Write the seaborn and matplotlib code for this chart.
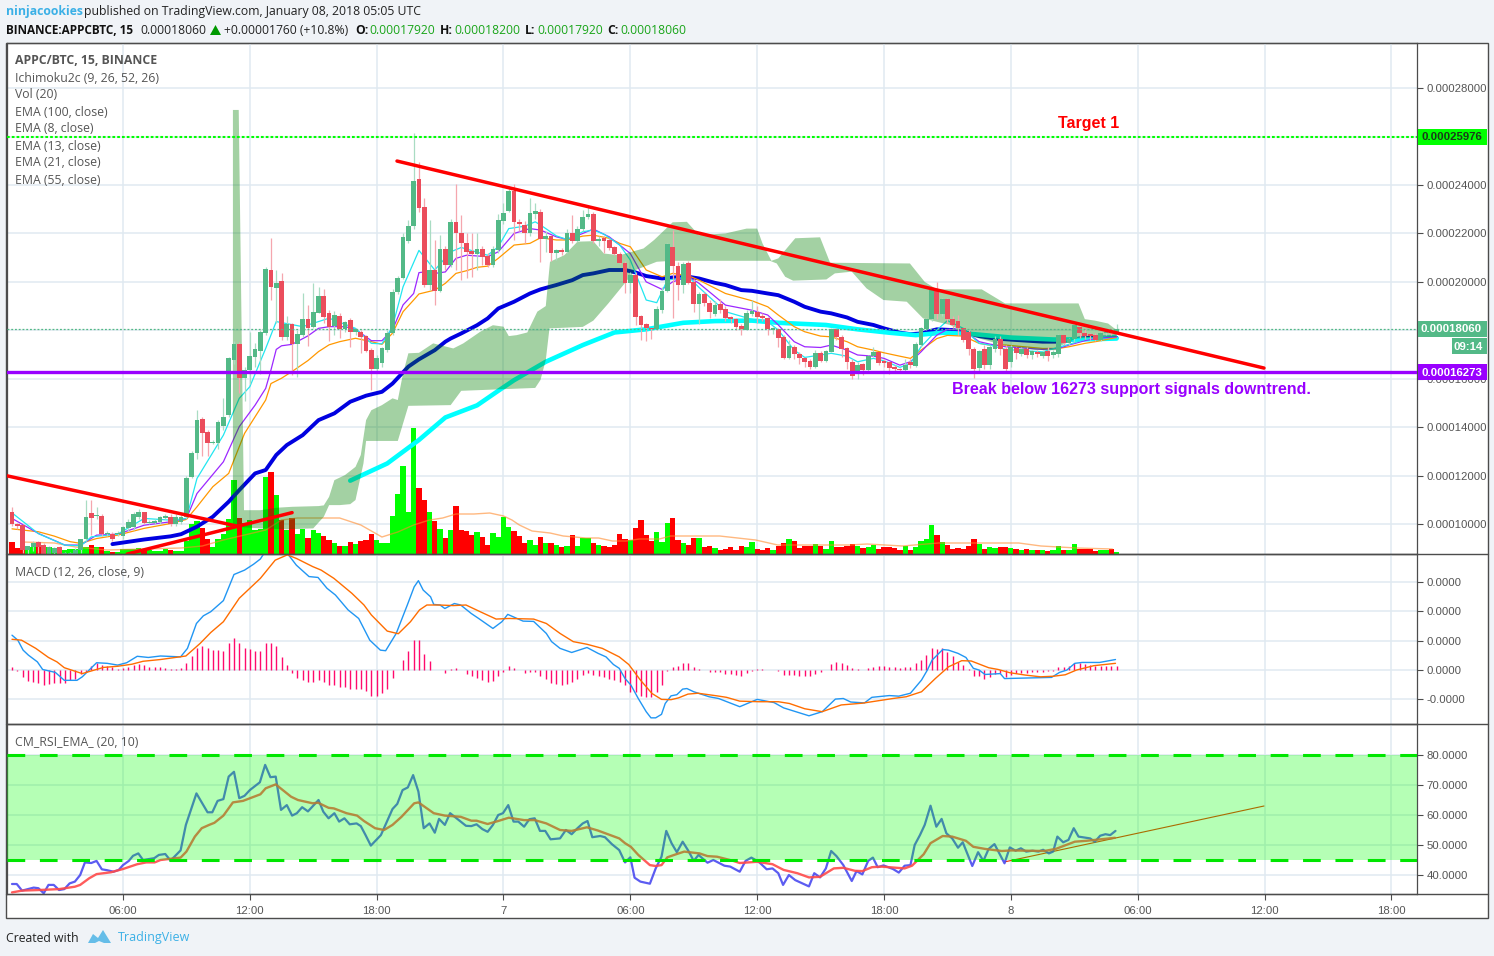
import matplotlib
matplotlib.use("Agg")
import matplotlib.pyplot as plt
import seaborn as sns
import numpy as np
from matplotlib.lines import Line2D
from matplotlib.patches import Polygon, Rectangle

# prices are in 1e-6 BTC, one list row = 10 bars of 15 minutes
opens = [
    105.1, 100.2, 99.5, 89.2, 90.3, 92.4, 91.3, 87.6, 88.1, 90.3,
    87.6, 87.5, 87.8, 89.2, 93.6, 104.4, 103.2, 103.3, 95.7, 95.8,
    95.8, 95.0, 98.2, 98.9, 103.0, 104.8, 100.5, 100.5, 100.9, 102.6,
    103.0, 100.2, 100.9, 102.7, 119.5, 129.2, 143.2, 138.1, 133.3, 133.3,
    140.4, 145.0, 167.8, 174.4, 160.2, 163.6, 169.1, 171.6, 179.0, 205.0,
    197.6, 200.4, 177.4, 182.5, 174.2, 178.1, 184.7, 181.5, 187.3, 194.2,
    187.0, 181.9, 186.0, 180.4, 184.3, 179.1, 179.2, 177.5, 171.9, 164.2,
    166.3, 171.8, 178.7, 195.9, 201.4, 216.8, 223.2, 242.3, 231.0, 198.7,
    205.1, 196.3, 213.4, 206.9, 224.6, 220.0, 215.9, 212.9, 211.5, 213.4,
    210.6, 206.9, 213.1, 225.2, 229.4, 237.5, 224.8, 223.5, 220.0, 227.9,
    229.0, 217.9, 218.9, 212.0, 213.1, 212.4, 220.0, 216.8, 222.0, 226.6,
    228.0, 217.0, 218.2, 217.3, 214.2, 211.5, 207.9, 199.6, 202.8, 185.9,
    182.6, 180.8, 180.4, 188.3, 196.3, 214.2, 206.7, 198.7, 207.6, 200.0,
    190.8, 195.0, 191.1, 186.7, 190.8, 188.6, 185.3, 184.5, 181.7, 180.1,
    186.6, 187.7, 185.9, 184.9, 180.1, 180.4, 177.1, 168.7, 173.2, 170.2,
    168.4, 167.3, 164.7, 170.5, 167.4, 171.1, 180.4, 177.3, 172.8, 167.0,
    161.9, 165.9, 163.6, 169.3, 170.9, 167.3, 166.7, 164.9, 163.8, 163.6,
    167.0, 165.2, 173.9, 180.5, 184.5, 196.2, 186.7, 192.8, 184.5, 183.8,
    180.8, 179.4, 172.1, 164.3, 172.1, 165.6, 172.2, 176.4, 172.1, 167.0,
    172.5, 170.2, 172.1, 169.8, 171.1, 169.5, 171.6, 169.8, 170.2, 177.9,
    174.9, 176.2, 181.5, 179.0, 178.4, 178.2, 176.0, 178.7, 179.8, 179.2,
]
closes = [
    100.2, 99.1, 89.2, 91.0, 92.0, 90.6, 87.6, 90.6, 89.9, 87.6,
    87.9, 87.9, 89.2, 93.6, 102.7, 102.3, 103.7, 95.8, 96.1, 93.6,
    96.0, 98.6, 100.9, 104.0, 104.8, 100.5, 100.9, 101.3, 102.7, 103.3,
    100.2, 103.0, 103.0, 119.2, 129.2, 142.9, 137.4, 133.3, 133.5, 142.2,
    144.3, 168.4, 174.4, 160.1, 163.6, 169.4, 172.2, 179.3, 205.2, 198.0,
    199.4, 177.4, 182.5, 174.2, 178.4, 184.7, 181.1, 187.5, 194.2, 185.3,
    181.3, 186.4, 180.4, 183.6, 179.1, 180.4, 177.4, 171.6, 164.2, 168.6,
    172.5, 178.7, 195.9, 201.4, 218.4, 223.2, 241.6, 230.3, 198.7, 205.1,
    196.3, 213.4, 206.9, 224.6, 220.0, 215.9, 212.4, 211.5, 213.4, 210.4,
    206.9, 213.4, 225.5, 228.3, 237.5, 224.8, 223.9, 220.0, 228.3, 229.2,
    217.9, 218.9, 212.0, 213.1, 212.4, 220.0, 216.8, 222.0, 226.6, 228.0,
    217.0, 217.9, 217.0, 213.8, 211.5, 207.9, 199.6, 202.8, 185.6, 182.1,
    180.8, 180.4, 188.6, 196.3, 215.6, 206.7, 198.7, 207.3, 199.6, 190.8,
    195.0, 191.1, 187.4, 190.4, 188.3, 184.9, 184.5, 181.5, 180.4, 187.0,
    187.9, 185.6, 184.9, 180.4, 180.8, 176.9, 168.7, 173.5, 170.2, 168.4,
    167.0, 164.7, 170.7, 167.4, 171.6, 180.4, 177.1, 172.2, 166.7, 161.1,
    165.6, 163.6, 169.5, 171.1, 166.3, 166.6, 164.5, 163.9, 163.6, 165.6,
    165.6, 174.3, 180.8, 184.6, 196.6, 186.7, 192.8, 184.5, 182.2, 180.8,
    176.0, 172.1, 163.9, 171.6, 165.6, 172.9, 176.4, 172.1, 163.9, 172.9,
    170.5, 172.1, 169.8, 171.4, 170.2, 171.1, 169.3, 171.1, 177.9, 174.9,
    176.6, 182.2, 178.7, 177.7, 177.7, 176.0, 179.0, 179.4, 179.0, 180.6,
]
highs = [
    107, 100.5, 100, 91, 93, 93, 92, 91, 90.5, 91,
    88.5, 88.5, 90, 94, 110, 110, 107, 104, 97, 96.5,
    97, 99, 102, 105, 106, 105, 101.5, 102, 103.5, 104,
    104, 104, 104, 120, 130, 147, 144, 139, 134.5, 143,
    152, 169, 175.5, 175, 165, 179.5, 174.6, 180, 206, 218,
    205, 203.6, 185.7, 183, 180, 195.3, 190.5, 199.4, 198, 197.1,
    188.4, 188, 187, 184, 185, 181, 180, 178, 172.5, 170,
    173, 180, 197, 202.5, 220, 225.5, 261.3, 249.6, 234.5, 225.5,
    217.3, 219.3, 215, 226, 240.3, 227.6, 220, 220, 220, 215,
    212, 215, 228, 232.4, 239.3, 240.3, 226, 225, 234.5, 232.4,
    230, 221, 219.5, 213.5, 214, 222, 227.6, 223, 229.7, 231,
    229, 219, 219, 218, 215, 212.5, 208.5, 204, 204, 186.5,
    183, 181, 190, 198, 216, 221.4, 208, 208, 208.5, 201,
    196, 196, 192.5, 192, 193, 190, 186, 185, 182.5, 188.5,
    192.5, 190, 187, 185.5, 181.5, 181, 178, 176, 174, 171,
    168.5, 168, 172, 171.5, 172, 181, 181, 178, 173, 168,
    167, 166.5, 170, 173, 171, 168, 167, 165.5, 164.5, 168,
    168, 175, 181.5, 185, 197, 200, 193.5, 193.5, 186, 186.3,
    181, 180, 173, 172, 174, 174, 177.5, 177.5, 174, 174,
    173, 173, 173, 172, 172, 172, 173, 172, 178.5, 178,
    177, 184, 183, 181, 179, 179, 179.5, 180.5, 181, 182.8,
]
lows = [
    99, 98, 88, 87, 89, 88, 87, 87, 87, 87,
    87, 87, 87, 88, 93, 95.5, 102, 95, 95, 93,
    95, 94, 97, 97.5, 102, 100, 100, 100, 100, 102,
    99, 99, 100, 102, 119, 127, 128, 128, 133, 131,
    139, 144, 166, 154, 151, 158, 165, 162, 178, 192.6,
    182.9, 176, 176, 161.6, 160.9, 177.4, 173.5, 181, 187, 182.9,
    175.6, 178, 176.7, 179.5, 173.3, 178, 170.5, 171, 155.4, 163,
    165, 171, 178, 195, 201, 216, 222, 229, 198, 196.6,
    190.4, 196, 205, 206, 204.9, 200.7, 201.4, 202, 205, 207,
    206, 206, 212, 224, 229, 217.3, 221, 215.9, 219, 226,
    208.3, 212.4, 208.6, 209, 211, 212, 216, 216.5, 221, 226,
    216, 215, 212, 213, 211, 207.5, 195.5, 195.5, 182, 175.9,
    175.7, 176.2, 180, 187, 196, 184.9, 192.5, 195.5, 199, 187.6,
    182.8, 190, 185, 186, 187, 184, 183, 180, 178, 180,
    186, 183, 184, 178, 178.5, 173.2, 168, 168, 168, 166,
    165, 164, 164.5, 167, 167, 171, 176, 169, 164, 160,
    160, 161.5, 163, 169, 165.5, 165, 162, 163, 163, 163,
    164.5, 165, 173, 180, 184, 184.5, 186, 183, 181, 178,
    175, 170, 160.5, 163, 164, 164, 171, 170, 163, 165,
    168, 169.5, 168.5, 168, 169, 168.5, 167.5, 168.5, 169, 174,
    174, 175, 177, 176.5, 176, 175.5, 175.5, 178, 178, 179,
]
volume = [
    12, 6, 4, 6, 7, 8, 9, 7, 4, 7,
    4, 5, 5, 6, 7, 9, 7, 7, 3, 2,
    2, 5, 5, 5, 6, 5, 4, 3, 3, 5,
    4, 3, 3, 13, 30, 33, 26, 15, 7, 15,
    20, 35, 74, 36, 31, 34, 24, 25, 77, 82,
    59, 34, 24, 36, 20, 25, 16, 24, 21, 18,
    14, 11, 8, 8, 12, 10, 13, 14, 20, 14,
    11, 11, 38, 60, 88, 42, 126, 66, 54, 42,
    33, 25, 16, 24, 48, 24, 23, 19, 22, 17,
    9, 21, 17, 37, 27, 23, 18, 11, 14, 9,
    17, 11, 11, 9, 7, 8, 19, 8, 16, 16,
    11, 9, 8, 7, 9, 20, 15, 14, 26, 34,
    19, 13, 22, 12, 31, 36, 14, 11, 9, 16,
    16, 7, 8, 6, 4, 5, 7, 4, 8, 7,
    12, 5, 4, 6, 4, 8, 11, 15, 13, 6,
    8, 8, 10, 8, 5, 13, 7, 7, 8, 10,
    8, 6, 7, 9, 5, 7, 7, 6, 4, 8,
    4, 7, 13, 15, 29, 19, 12, 9, 5, 6,
    5, 8, 15, 10, 5, 7, 6, 7, 7, 6,
    5, 4, 5, 4, 4, 4, 3, 4, 8, 4,
    4, 10, 5, 5, 5, 3, 4, 4, 5, 2,
]
vol_ma_bars = [2, 8, 12, 18, 25, 32, 36, 40, 44, 48, 51, 54, 58, 62, 66, 70, 73, 76, 79,
               81.5, 84, 87.4, 90.4, 93, 94.6, 96, 98.4, 101.8, 104.3, 108.6, 111, 113.6, 116.2,
               118.7, 122.5, 124.6, 129.7, 133.9, 137.3, 140.7, 144.9, 151.6, 158.4, 161.8,
               168.5, 175.3, 182, 190.5, 194.7, 201.5, 208.2]
vol_ma = [12, 11, 7, 4, 5, 6, 8, 14, 19, 24, 34, 36, 36, 36, 29, 17, 22, 29, 34,
          36, 40, 40, 41, 38, 34, 29, 23, 21, 18, 16, 16, 13, 13,
          15, 15, 18, 18, 18, 16, 14, 9, 9, 9, 10,
          8, 11, 11, 11, 8, 6, 5]

ema8_bars = [0, 5, 10, 13, 15, 20, 25, 30, 33, 35, 40, 43, 45, 48, 50, 55, 60, 65, 68, 70,
             72, 74, 76, 77, 79, 80, 83, 85, 90, 92, 94, 97, 99, 100, 103, 105, 108, 110, 112, 115,
             117, 120, 122, 124, 126, 128, 130, 135, 140, 143, 145, 148, 150, 155, 158, 160, 163, 165, 168, 170,
             172, 175, 177, 180, 183, 185, 188, 190, 195, 198, 200, 203, 205, 209]
ema8 = [104.6, 96, 91.3, 91, 94.7, 95.8, 102.3, 101.6, 102.3, 118.8, 136.7, 151.9, 156.7, 172.5, 183.6, 181.5, 185, 180.8, 174.6, 174.4,
        181.5, 198, 208, 213, 207.6, 204.9, 212.4, 214.2, 211, 214.5, 222, 223, 224.8, 223.5, 219, 217.5, 220.7, 221.4, 219.7, 215.2,
        209, 192.5, 191.4, 200.7, 201.4, 202.1, 197.7, 187.7, 184.5, 183.5, 180.1, 171.8, 168.8, 170.5, 169.3, 167, 168.4, 167.4, 164.7, 166.3,
        173.2, 180.1, 184, 180.8, 174.6, 173.9, 172.1, 171.8, 171.1, 173, 174.2, 176.2, 177.1, 178]
ema13_bars = [0, 5, 10, 13, 16, 20, 25, 30, 33, 35, 40, 43, 46, 48, 49, 50, 51, 53, 56, 58,
              60, 63, 65, 68, 70, 72, 74, 76, 77, 78, 80, 82, 84, 86, 90, 92, 95, 98, 100, 103,
              105, 108, 110, 113, 115, 117, 120, 123, 125, 128, 130, 135, 140, 143, 145, 148, 150, 153, 155, 158,
              160, 163, 165, 168, 170, 172, 175, 177, 180, 183, 185, 188, 190, 195, 198, 200, 203, 205, 209]
ema13 = [102.3, 96.1, 91.3, 91.3, 95.4, 95.8, 99.5, 100.9, 102.3, 112.6, 125.7, 140.2, 149.1, 156, 163.6, 172.1, 173.6, 174.2, 177.7, 180.8,
         181.5, 181.5, 180.4, 175.7, 175.7, 180.2, 190.5, 195.2, 203.8, 204.1, 203.5, 204.1, 209.7, 211, 210.4, 212.4, 220, 222, 221.4, 218.6,
         217.5, 220, 221.8, 218.6, 215.2, 211.7, 200, 196.9, 200, 202.1, 199.4, 190.4, 188.3, 186.3, 182.2, 175.3, 173.2, 172.9, 173.9, 171.8,
         169.8, 169.3, 168.4, 165.6, 167, 171.1, 178, 180.4, 180.1, 175.3, 174.3, 173.2, 172.9, 172.1, 172.5, 173.9, 175.7, 176.6, 177.3]
ema21_bars = [0, 2, 5, 8, 11, 13, 16, 20, 25, 30, 33, 35, 38, 41, 44, 46, 48, 49, 51, 53,
              56, 58, 60, 62, 65, 68, 70, 72, 74, 76, 77, 80, 82, 84, 86, 88, 90, 92, 95, 98,
              100, 103, 105, 108, 110, 113, 115, 117, 120, 123, 125, 128, 130, 135, 140, 143, 145, 148, 150, 153,
              155, 158, 160, 163, 165, 168, 170, 172, 175, 177, 180, 183, 185, 188, 190, 195, 198, 200, 203, 205, 209]
ema21 = [98, 97.5, 96.8, 95, 92.7, 92, 94, 95.4, 98.2, 100.2, 101.9, 107.1, 115.4, 120.9, 137.4, 144.3, 151.2, 158, 160.2, 163,
         167.5, 171.2, 174, 175.3, 176.7, 175.3, 174.2, 178.8, 187.7, 192.5, 195, 196.6, 199.4, 203.5, 204.6, 206, 206.5, 209.7, 215.2, 215.9,
         218.2, 217.3, 217.3, 218.9, 219.3, 218, 215.9, 214.5, 204.9, 202.1, 203.5, 202.5, 200.7, 195.2, 192.2, 189.7, 186.3, 181.5, 179.4, 177.6,
         177.3, 175.3, 173.2, 171.8, 170.7, 169.3, 168.4, 171.8, 176.6, 177.9, 177.6, 174.6, 173.9, 173.9, 173.5, 172.5, 172.5, 173.2, 174.6, 175.3, 177]
ema100_bars = [19, 25, 30, 32, 35, 38, 41, 43, 46, 48, 50, 52, 55, 58, 61, 64, 67, 70, 72, 75,
               77, 80, 82, 83, 85, 88, 90, 92, 95, 98, 100, 103, 106, 108, 110, 113, 116, 118, 120, 123,
               125, 128, 130, 133, 135, 138, 140, 143, 145, 148, 150, 153, 155, 158, 160, 163, 165, 168, 170, 172,
               175, 178, 180, 183, 186, 190, 195, 198, 202, 205, 209]
ema100 = [91.7, 93.6, 94.9, 95.8, 98.9, 103, 109.2, 114, 120.9, 122.3, 128.5, 132.6, 136.7, 142.9, 145.7, 150.5, 153, 154.6, 158, 165,
          168, 171.8, 175.3, 176.6, 178.7, 182.1, 184.9, 189, 191.8, 195.2, 196.9, 198.7, 200.7, 202.8, 203.5, 204.9, 204.9, 203.9, 202.4, 201.4,
          201.8, 202.1, 201.4, 199.6, 198.7, 196.6, 196.3, 195.2, 194.5, 191.8, 189.7, 187.7, 187, 185.3, 183.5, 182.2, 180.8, 179, 178.4, 178.7,
          180.4, 180.1, 179.4, 177.6, 176.6, 176, 175.3, 175.3, 176.6, 177, 176.9]
ema55_bars = [64, 71, 77, 82, 88, 92, 95, 101, 108, 114, 120, 127, 133, 140, 145, 154, 160, 166, 171, 176, 182, 189, 197, 202, 209]
ema55 = [117.9, 125, 134.7, 144, 149, 155, 159.4, 167, 173.9, 179.1, 180.4, 183.1, 183.8, 184, 183.1, 182.2, 180.4, 179, 178, 179, 178.4, 177, 176.2, 176.2, 176.6]

# ichimoku cloud edges
cloud_top_bars = [41.8, 42.9, 43.9, 47, 50, 53, 58, 59, 60, 61, 63, 65, 66, 67, 68, 70, 72, 73, 74, 75, 77,
                  79.7, 83.5, 85.4, 88.6, 91, 93, 94, 95.5, 97.5, 99.4, 101, 101.8, 104.5, 107, 110, 112, 115,
                  119.5, 121.5, 125, 127.7, 130, 135, 139, 141, 142, 143.7, 145, 148.2, 152.9, 154.8, 169.9,
                  172.7, 175, 183.5, 187.9, 201.8, 203, 204.9, 207.4, 209]
cloud_top = [271, 271, 105.7, 105.7, 106.7, 107.1, 107.4, 107.7, 111.2, 118.1, 120.2, 123.6, 128.5, 142.9, 147, 149.1, 151.9, 151.2, 162.2, 170.5, 170.7,
             174.6, 172.5, 174.6, 179.4, 182.1, 181.5, 177.6, 178, 179.1, 187.7, 190, 208.3, 211, 216.6, 216.8, 211.7, 211,
             213.8, 217.3, 224.6, 224.8, 219.3, 220, 222, 222, 215.9, 208.7, 209.7, 218, 218.4, 207.9, 207.6,
             200, 196.9, 196.9, 191.1, 191.1, 184.6, 184, 182.8, 180.1]
cloud_low_bars = [41.8, 47, 52, 57, 59, 60, 62, 64, 65, 66.5, 67, 73, 75, 83, 85, 99, 100, 101, 101.7, 108, 110, 112.8,
                  118, 122, 125, 143.4, 144.7, 146.3, 147.8, 154.1, 155.7, 158.9, 161.7, 164.9, 169.3, 172.4,
                  177.5, 181.9, 188.2, 193.9, 197.7, 198, 201.4, 209]
cloud_low = [98.9, 98.2, 97.8, 98.2, 103, 107.8, 107.8, 108.2, 109.9, 125, 134.3, 134.3, 148.8, 149.1, 155, 156.2, 159.5, 167.7, 180.8, 181.4, 184, 191,
             204.9, 208.3, 208.7, 208.7, 207.6, 202.1, 200.5, 201, 203.5, 204.2, 197.3, 192.5, 191.8, 184.9,
             182.2, 177.3, 173.5, 171.8, 171.8, 173.2, 176.6, 177.3]

macd_bars = [0, 1.1, 2.1, 3.1, 4.8, 5.8, 8.2, 9.9, 12.3, 13.3, 16, 18, 20, 21.7, 23.7, 25.8, 28.1, 31.9, 33.2, 34.9,
             36.2, 37.6, 40, 42, 44, 45.7, 47, 48.1, 50.1, 52.1, 53.8, 56.2, 57.9, 59.6, 61.2, 63.6, 65.6, 67.7, 69.7, 70.7,
             72.7, 74.8, 76.1, 76.9, 77.8, 79.2, 79.8, 81, 81.9, 83.7, 84.9, 86.9, 88.3, 91, 92.7, 93.8, 96.7, 98.7, 101.1, 102.1,
             103.7, 105.9, 108.8, 110.9, 112.4, 113.8, 114.9, 116, 117.1, 118.5, 120, 120.9, 121.8, 122.9, 123.6, 124.7, 125.8, 126.9, 127.7, 129,
             131.9, 133.7, 137.7, 141, 144.2, 146, 150.8, 153.3, 155.8, 157.3, 158.7, 161.3, 162.7, 166, 167.8, 170, 172.1, 173.2, 174.1, 176.1,
             177.2, 179, 180.5, 181.9, 183, 184.1, 187, 187.8, 196.7, 198.2, 199.6, 201.1, 202.5, 205.8, 208.8]
macd = [11.9, 10.2, 6.8, 5.1, 2.8, 0.2, -0.8, -3.5, -3.5, -2.3, 2.5, 2.3, 1.7, 2.5, 4.7, 4.3, 4.8, 4.5, 7.4, 15.9,
        18.5, 19.9, 23.7, 32.6, 34.1, 36.1, 37.9, 41, 42, 39.8, 35.8, 31.9, 31.6, 27.9, 25.6, 20.5, 17.6, 10.2, 6.8, 6.6,
        12.5, 22.2, 28.4, 30.5, 27.3, 25, 22.4, 22.2, 21, 22.7, 22.2, 19.3, 17.6, 14.2, 16.5, 19, 16.7, 16.6, 12.5, 9.7,
        7.4, 6, 7.7, 5.7, 4.5, 1.9, 0.6, -2.9, -5.1, -9.7, -14.2, -16.3, -16.3, -15.1, -11.4, -8.8, -8.4, -6.5, -6.3, -7.4,
        -9.1, -9.7, -12.5, -10, -11.1, -12.9, -15.6, -14.2, -9.9, -9.7, -10.9, -11.2, -9.3, -8.7, -8.9, -7.9, -3.4, 0, 3.4, 7,
        6.8, 5.7, 4.3, 0.6, 0, -1.5, -1.2, -2.9, -2.5, -0.8, 0, 2.3, 2.6, 2.6, 3.6]
signal_bars = [0, 1.8, 4.5, 6.9, 8.5, 9.9, 13.3, 17.3, 20, 22.7, 24.8, 28.1, 32.9, 35.6, 37.6, 40, 43, 47, 49.8, 52.1,
               53.8, 56.9, 58.5, 60.9, 64.3, 66.6, 68, 71, 73.1, 75.4, 77.1, 78.5, 80.8, 83.5, 85.9, 88.6, 91.6, 94, 98.7, 101.1,
               103.7, 106.2, 108.8, 111.7, 114.9, 116.7, 118.9, 121.1, 122.9, 124.7, 126.1, 127.9, 129.8, 133.4, 135.2, 137.7, 141.3, 145, 147.1, 150,
               153.3, 156.9, 160.9, 166.7, 169.2, 172.1, 174.7, 177.2, 179.7, 181.5, 184.8, 186.6, 188.8, 191.7, 194.6, 197.1, 199.3, 201.4, 204.7, 208.8]
signal = [10.5, 10.2, 7.4, 4.3, 2.8, 0.8, -1.2, 0.9, 1.3, 2, 3, 3.6, 4.8, 9.1, 12.8, 16.5, 24.5, 31.3, 37.5, 39.3,
          38.1, 35.3, 34.1, 31.3, 26.2, 22.2, 18.8, 13.3, 12.4, 16.5, 20.5, 22.2, 22.2, 22, 22.2, 19.9, 17.4, 17.6, 17.4, 15.9,
          12.5, 9.7, 8.8, 7.4, 4.5, 1.9, -3.4, -8, -10, -10.1, -9.5, -8.2, -7.9, -8.8, -9.3, -10.6, -10.8, -10.8, -11.4, -13.2,
          -14.2, -11.9, -11.3, -9.7, -9.1, -7.4, -2.9, 1.1, 3.2, 3.1, 0.8, 0.2, -0.9, -1.7, -2.3, -2.1, -1.6, 0, 1.5, 2.3]
macd_hist = [
    0.9, -0.3, -2.3, -3.8, -4.2, -4.3, -5.1, -4.9, -4.3, -4.3,
    -4.3, -3.4, -3.2, -1.4, -0.6, 1.4, 2.5, 1.7, 1.4, 0.9,
    0.5, 0.7, 1.1, 1.9, 2, 1.6, 0.9, 0.9, 0.9, 0.6,
    0.2, 0.2, 0.7, 2.3, 4.8, 7.4, 8.2, 7.7, 6.8, 6.8,
    6.5, 9.1, 10.8, 9.1, 7.7, 7.1, 6.6, 6.5, 9.1, 9.1,
    8.2, 4.3, 1.7, -0.9, -2.8, -3.4, -4, -4, -3.4, -4,
    -5.1, -5.1, -5.7, -5.9, -6.3, -6.3, -6.6, -7.1, -8.8, -8.8,
    -7.7, -6.5, -2.7, 0, 3.6, 6.5, 10.2, 10.2, 5.5, 3.1,
    0, 0, -0.9, 0.2, 0.6, 0, -1.4, -2, -2.8, -3.4,
    -4, -3.8, -2, -0.6, 1.4, 0.6, 0, -0.9, -0.6, -0.6,
    -2, -3.1, -4.3, -4.6, -5.1, -4.6, -4, -3.1, -1.7, -0.9,
    -1.7, -1.9, -2.3, -3.1, -3.4, -4.2, -5.1, -7.6, -7.4, -8.9,
    -9.1, -9.1, -7.4, -5.1, -0.3, 0.9, 1.4, 2.3, 2.3, 0.9,
    0.3, 0, -0.6, -0.6, -0.8, -1.4, -1.4, -1.7, -1.9, -0.9,
    -0.2, 0.2, 0.2, 0, 0, -0.2, -1.7, -1.7, -1.7, -1.9,
    -1.9, -1.9, -1.4, -0.6, 0, 2, 2.6, 2.3, 1.6, 0.6,
    0.2, 0, 0.6, 1.1, 1.3, 1.3, 0.9, 0.9, 0.7, 0.9,
    0.9, 2.3, 3.6, 5.1, 7.4, 7.1, 7.5, 6, 4.8, 2.8,
    1.7, 0.2, -2, -2, -3.1, -2.3, -1.4, -0.9, -2.3, -1.7,
    -1.1, -1.1, -0.9, -0.6, -0.6, -0.5, -0.3, -0.3, 0.9, 0.9,
    1.4, 2.3, 2.3, 2, 1.6, 1.5, 1.4, 1.4, 1.4, 1.4,
]

rsi_bars = [0, 0.9, 1.9, 4.1, 5, 6, 6.9, 7.9, 8.9, 9.9, 10.9, 11.9, 12.9, 13.8, 15, 16, 17, 18, 19.2, 20.2,
            21, 22.1, 22.9, 23.9, 24.8, 26.9, 27.8, 29, 30, 31.9, 32.9, 34.9, 37, 37.9, 38.9, 40, 41, 42, 43, 44,
            45, 46.9, 47.9, 48.9, 49.9, 50.9, 52, 53, 53.9, 54.9, 56, 58, 58.9, 59.9, 61, 61.9, 62.9, 63.9, 65.2, 66,
            66.9, 67.9, 69.8, 72, 72.9, 73.9, 74.9, 75.9, 76.9, 77.9, 79, 80, 80.8, 81.9, 82.9, 84.9, 85.9, 86.9, 87.9, 89,
            90, 91, 92, 92.9, 93.9, 94.9, 95.8, 96.9, 97.9, 98.9, 99.9, 100.9, 101.9, 103.7, 104.8, 105.9, 107, 108, 108.9, 109.8,
            111.3, 112.2, 113.5, 114.9, 116, 117, 117.8, 118.9, 120.7, 121.8, 122.9, 123.8, 124.8, 125.8, 126.9, 128, 129, 129.9, 131.6, 132.7,
            134.8, 135.9, 137.7, 138.8, 139.9, 141.3, 142.8, 143.9, 145, 145.9, 147, 148.2, 150.8, 151.8, 152.9, 154, 155, 156, 157.3, 158.9,
            159.8, 160.9, 162, 162.9, 163.8, 164.9, 166.7, 167.8, 168.9, 170, 170.8, 171.8, 172.7, 173.8, 174.9, 175.9, 176.8, 177.9, 179, 179.9,
            181.7, 182.8, 183.8, 184.8, 185.9, 187.8, 188.8, 189.9, 190.9, 191.9, 193.1, 194.2, 195.1, 196.2, 197, 197.8, 198.9, 199.9, 200.9, 201.8,
            204, 204.9, 205.9, 206.9, 207.8, 208.8]
rsi = [37, 37, 34.8, 35.8, 35.6, 33.9, 36.7, 36.7, 35, 35.3, 37.2, 37.8, 40, 44.2, 44, 44.7, 41.9, 41.6, 41.1, 41.7,
       43.3, 44.7, 46.4, 47.2, 45, 45.6, 46.7, 47, 44.8, 48.2, 56.7, 67.2, 60.9, 60.9, 64.7, 65.3, 72.8, 74.4, 65.6, 66.4,
       68.3, 70.9, 76.7, 72.6, 72.8, 61.7, 63.3, 59.8, 60.6, 62.6, 61.2, 65, 61.1, 58.9, 60.6, 57.8, 58.9, 56.9, 57.2, 56.3,
       53.3, 49.8, 53.3, 62, 63.7, 68.3, 69.2, 73.3, 67.8, 55.6, 57.2, 54.1, 58.7, 56.7, 60.6, 57.8, 56.4, 56.3, 56.9, 55.3,
       54.4, 56.7, 60, 60.6, 63.3, 57.8, 57.8, 56.1, 58.6, 58.9, 54.7, 54.7, 51.9, 52.2, 55, 53.6, 55.6, 57.2, 58, 52.6,
       53, 52.6, 50.3, 48.3, 44.2, 45.9, 39.1, 37.8, 37.1, 42.2, 46.1, 54.7, 50.6, 47.6, 51.1, 48, 44.7, 46.7, 44.1, 45,
       43.1, 42.8, 41.1, 44.7, 45.8, 44.4, 41.9, 42.2, 40.6, 36.7, 40, 38.3, 36.2, 40.6, 39.2, 42.2, 48, 46.3, 43.3, 38,
       41.3, 40.2, 44.7, 45.8, 42.6, 43.2, 42, 40.8, 43.1, 43.3, 50, 53.3, 56.7, 63.1, 56.1, 58.7, 53.9, 52.2, 49.1, 50.9,
       43, 47.6, 44.7, 48.7, 50.3, 43.9, 49.2, 48.1, 48.9, 47.8, 48.1, 47.8, 48.4, 47.2, 47.8, 52.8, 50.9, 51.7, 55.6, 52.8,
       52.2, 51.1, 53.1, 53.6, 53.3, 54.7]
rsi_ema_bars = [0, 1.9, 5.2, 8.9, 11.9, 12.9, 14.6, 16, 18.7, 21, 23.7, 25.4, 27, 28.1, 31.9, 33, 34.6, 35.9, 37.3, 38.3,
                40, 41.8, 43.7, 47, 48, 49.9, 52.8, 54.1, 56.9, 57.9, 59.9, 60.9, 63.3, 65.3, 66.6, 68.7, 70.4, 72, 73.7, 76.1,
                76.9, 79.8, 81.9, 84.9, 86.9, 87.9, 90, 92, 94, 96.9, 98.9, 101.1, 103.7, 105.9, 108.8, 110.9, 114.9, 116, 117.1, 118.5,
                120.7, 121.8, 122.9, 124, 125.8, 127.2, 130.1, 131.6, 133.4, 136.3, 137.7, 141, 143.9, 146, 148.6, 150.8, 152.9, 155.5, 157.3, 159.5,
                160.9, 162.7, 164.5, 168.9, 170.3, 172.5, 173.8, 176.1, 177.9, 180.5, 181.9, 184.1, 187.3, 189.1, 195.3, 197.5, 201.1, 203.3, 208.7]
rsi_ema = [34.2, 34.8, 35, 35.3, 36.1, 36.7, 38.9, 40.3, 40.9, 42, 43.6, 44.2, 44.2, 45, 45.8, 47.8, 52.8, 55.6, 56.7, 57.4,
           59.8, 64.2, 64.7, 66.9, 68.9, 70.2, 66.1, 65, 63.9, 64.1, 62.4, 62.2, 60.6, 59.8, 58, 55.6, 55, 56.7, 59.4, 63.9,
           64.2, 60.6, 59.8, 59.4, 58.1, 58.1, 57, 58, 59.1, 58.3, 58.3, 57.2, 55, 54.7, 55.9, 54.8, 52.2, 50.6, 49.4, 46.7,
           43.3, 43, 43.3, 45.9, 47, 47.8, 47.2, 46.3, 46.1, 44.8, 44, 44.4, 43.6, 41.7, 40.6, 39.2, 39.4, 42.2, 42.4, 41.4,
           41.3, 42.6, 42.8, 42.2, 43.1, 46.9, 50.6, 53, 52.8, 51.4, 49.4, 48.7, 48, 48.2, 48, 48.7, 51.1, 51.4, 52.4]

# trend lines, (bar, price)
trend_main_bars = [72.85, 236.9]
trend_main = [249.9, 164.4]
trend_left_bars = [-0.95, 43.1]
trend_left = [119.9, 98.9]
trend_rise_bars = [21.8, 53]
trend_rise = [87.6, 104.7]
rsi_trend_bars = [187.9, 236.9]
rsi_trend = [44.4, 63]

target_price = 259.76
support_price = 162.73
last_price = 180.6
price_ticks = list(range(100, 300, 20))
macd_ticks = [-10, 0, 10, 20, 30]
rsi_ticks = [40, 50, 60, 70, 80]
time_bars = [21, 45, 69, 93, 117, 141, 165, 189, 213, 237, 261]
time_labels = ["06:00", "12:00", "18:00", "7", "06:00", "12:00", "18:00", "8", "06:00", "12:00", "18:00"]
legend_labels = ["Ichimoku2c (9, 26, 52, 26)", "Vol (20)", "EMA (100, close)", "EMA (8, close)",
                 "EMA (13, close)", "EMA (21, close)", "EMA (55, close)"]

W, H = 1494, 956
BG = "#f0f3f7"
GRID = "#e0e9f1"
FRAME = "#4c4c4c"
TXT = "#555555"
UP = "#53b987"
DOWN = "#eb4d5c"
LEFT, RIGHT = 7, 1417
PRICE_MIN, PRICE_MAX = 87.61, 298.65
VOL_SCALE = 0.413  # price units per volume unit on the overlay

sns.set_style("white")
plt.rcParams["font.family"] = ["Open Sans", "DejaVu Sans"]


def fx(px):
    return px / W


def fy(py):
    return 1 - py / H


def make_panel(fig, top, bottom, ylim, ticks, labels):
    ax = fig.add_axes([fx(LEFT), fy(bottom), (RIGHT - LEFT) / W, (bottom - top) / H])
    ax.set_xlim(-0.946, 265.85)
    ax.set_ylim(*ylim)
    ax.set_xticks(time_bars)
    ax.set_xticklabels([])
    ax.set_yticks(ticks)
    ax.set_yticklabels(labels, fontfamily="Liberation Sans", fontsize=8.2, color=TXT)
    ax.yaxis.tick_right()
    ax.tick_params(axis="y", length=4, width=0.8, color=FRAME, pad=3, right=True)
    ax.tick_params(axis="x", length=0)
    ax.grid(True, color=GRID, linewidth=1.1, zorder=0.5)
    ax.set_axisbelow(True)
    ax.patch.set_alpha(0)
    for s in ax.spines.values():
        s.set_color(FRAME)
        s.set_linewidth(0.9)
    return ax


def line(ax, x, y, color, lw, z, alpha=1.0):
    sns.lineplot(x=x, y=y, color=color, linewidth=lw, zorder=z, alpha=alpha,
                 sort=False, estimator=None, ax=ax)


def price_box(fig, top, bottom, left, text, face, color):
    fig.add_artist(Rectangle((fx(left), fy(bottom)), (1487 - left) / W, (bottom - top) / H,
                             transform=fig.transFigure, facecolor=face, edgecolor="none", zorder=5))
    fig.text(fx((left + 1487) / 2 - 1), fy((top + bottom) / 2 + 0.5), text, color=color, ha="center", va="center",
             fontfamily="Liberation Sans", fontsize=8.2, fontweight="bold", zorder=6)


fig = plt.figure(figsize=(W / 100, H / 100), dpi=100, facecolor=BG)
fig.add_artist(Rectangle((fx(6), fy(918)), 1482 / W, 875 / H, transform=fig.transFigure,
                         facecolor="white", edgecolor=FRAME, linewidth=1.0, zorder=-1))
for py in (554, 724, 894):
    fig.add_artist(Line2D([fx(6), fx(1488)], [fy(py), fy(py)], color=FRAME, linewidth=1.0, zorder=2))

bars = np.arange(len(closes))
opens = np.array(opens)
closes = np.array(closes)
is_up = closes >= opens

# price panel, the labels under the last price boxes stay blank
price_labels = ["" if t in (180, 260) else f"{t * 1e-6:.8f}" for t in price_ticks]
ax = make_panel(fig, 43, 554, (PRICE_MIN, PRICE_MAX), price_ticks, price_labels)
ax.bar(bars, np.array(volume) * VOL_SCALE, bottom=PRICE_MIN, width=1.0, linewidth=0,
       color=np.where(is_up, "#00ff00", "#ff0000"), zorder=1)
line(ax, vol_ma_bars, np.array(vol_ma) * VOL_SCALE + PRICE_MIN, "#ff8a2b", 1.0, 1.5, 0.6)
line(ax, ema100_bars, ema100, "#0000e0", 2.8, 2)
line(ax, ema55_bars, ema55, "#00ffff", 3.3, 2.1)
line(ax, ema21_bars, ema21, "#ff9800", 0.9, 2.2)
line(ax, ema13_bars, ema13, "#9c27ff", 0.9, 2.3)
line(ax, ema8_bars, ema8, "#22e6f0", 0.9, 2.4)
ax.fill(np.r_[cloud_top_bars, cloud_low_bars[::-1]], np.r_[cloud_top, cloud_low[::-1]],
        color="#008000", alpha=0.36, linewidth=0, zorder=3)
ax.vlines(bars[is_up], np.array(lows)[is_up], np.array(highs)[is_up], color="#a9dcc3", linewidth=0.9, zorder=3.5)
ax.vlines(bars[~is_up], np.array(lows)[~is_up], np.array(highs)[~is_up], color="#f5a6ae", linewidth=0.9, zorder=3.5)
ax.bar(bars, np.maximum(np.abs(closes - opens), 0.4), bottom=np.minimum(opens, closes), width=0.9, linewidth=0,
       color=np.where(is_up, UP, DOWN), zorder=4)
ax.axhline(last_price, color=UP, linewidth=0.9, linestyle=(0, (1.5, 1.5)), zorder=4.5)
ax.axhline(target_price, color="#00ff00", linewidth=1.5, linestyle=(0, (1.3, 1.0)), zorder=4.5)
ax.axhline(support_price, color="#9900ff", linewidth=2.4, zorder=5)
line(ax, trend_main_bars, trend_main, "#ff0000", 2.5, 5.2)
line(ax, trend_left_bars, trend_left, "#ff0000", 2.5, 5.2)
line(ax, trend_rise_bars, trend_rise, "#ff0000", 2.5, 5.2)
ax.text(203.8, 265.2, "Target 1", color="#ff0000", fontfamily="Liberation Sans", fontsize=11.5,
        fontweight="bold", ha="center", va="center", zorder=6)
ax.text(177.9, 155.6, "Break below 16273 support signals downtrend.", color="#9900ff",
        fontfamily="Liberation Sans", fontsize=11.5, fontweight="bold", ha="left", va="center", zorder=6)
ax.set_xlim(-0.946, 265.85)
ax.set_ylim(PRICE_MIN, PRICE_MAX)

fig.text(fx(15), fy(61), "APPC/BTC, 15, BINANCE", color=TXT, fontsize=8.8, fontweight="bold", va="center", zorder=6)
for n, label in enumerate(legend_labels):
    fig.text(fx(15), fy(78 + 17 * n), label, color=TXT, fontsize=8.8, va="center", zorder=6)

# macd panel
ax_macd = make_panel(fig, 554, 724, (-18.4, 39.6), macd_ticks, [f"{t * 1e-6:.4f}" for t in macd_ticks])
ax_macd.vlines(bars, 0, macd_hist, color="#ff0a6c", linewidth=1.0, zorder=2)
line(ax_macd, macd_bars, macd, "#2196f3", 1.0, 3)
line(ax_macd, signal_bars, signal, "#ff6d00", 1.0, 3.1)
ax_macd.set_xlim(-0.946, 265.85)
ax_macd.set_ylim(-18.4, 39.6)
fig.text(fx(15), fy(572), "MACD (12, 26, close, 9)", color=TXT, fontsize=8.8, va="center", zorder=6)

# rsi panel
ax_rsi = make_panel(fig, 724, 894, (33.67, 90.33), rsi_ticks, [f"{t:.4f}" for t in rsi_ticks])
line(ax_rsi, rsi_trend_bars, rsi_trend, "#f03000", 0.8, 2)
line(ax_rsi, rsi_bars, rsi, "#4a4af0", 1.6, 2.5, 0.9)
line(ax_rsi, rsi_ema_bars, rsi_ema, "#ff4a4a", 1.7, 2.6, 0.9)
ax_rsi.axhspan(45, 80, color="#00ff00", alpha=0.29, linewidth=0, zorder=3)
for level in (45, 80):
    ax_rsi.axhline(level, color="#00e600", linewidth=2.2, linestyle=(0, (5.8, 4.8)), zorder=4)
ax_rsi.set_xlim(-0.946, 265.85)
ax_rsi.set_ylim(33.67, 90.33)
ax_rsi.set_xticklabels(time_labels, fontfamily="Liberation Sans", fontsize=8.2, color=TXT)
ax_rsi.tick_params(axis="x", length=4, width=0.8, color=FRAME, pad=5, bottom=True)
fig.text(fx(15), fy(742), "CM_RSI_EMA_ (20, 10)", color=TXT, fontsize=8.8, va="center", zorder=6)

# last price labels on the scale
price_box(fig, 129, 145, 1418, "0.00025976", "#00ff00", "#1a3a1a")
price_box(fig, 321, 337, 1418, "0.00018060", UP, "white")
price_box(fig, 338, 354, 1452, "09:14", UP, "white")
price_box(fig, 364, 380, 1418, "0.00016273", "#9900ff", "white")

# header
fig.text(fx(6), fy(12), "ninjacookies", color="#3bb0e6", fontsize=8.8, fontweight="bold", va="center")
fig.text(fx(84), fy(12), "published on TradingView.com, January 08, 2018 05:05 UTC", color="#222222",
         fontsize=8.8, va="center")
fig.text(fx(6), fy(30), "BINANCE:APPCBTC, 15", color="#111111", fontsize=8.5, fontweight="bold", va="center")
fig.text(fx(140), fy(30), "0.00018060", color="#222222", fontsize=8.7, va="center")
fig.add_artist(Polygon([[fx(210), fy(35)], [fx(221), fy(35)], [fx(215.5), fy(25)]], closed=True,
                       transform=fig.transFigure, facecolor="#009900", edgecolor="none"))
fig.text(fx(224), fy(30), "+0.00001760 (+10.8%)", color="#222222", fontsize=8.7, va="center")
for px, key, px2, val in [(355, "O:", 369, "0.00017920"), (440, "H:", 454, "0.00018200"),
                          (525, "L:", 537, "0.00017920"), (607, "C:", 620, "0.00018060")]:
    fig.text(fx(px), fy(30), key, color="#111111", fontsize=8.7, fontweight="bold", va="center")
    fig.text(fx(px2), fy(30), val, color="#19a519", fontsize=8.7, va="center")

# footer
fig.text(fx(6), fy(938), "Created with", color="#222222", fontsize=8.8, va="center")
fig.add_artist(Polygon([[fx(88), fy(943)], [fx(93), fy(934)], [fx(98), fy(938)], [fx(103), fy(930)],
                        [fx(111), fy(943)], [fx(104), fy(943)], [fx(99), fy(941)], [fx(95), fy(943)]],
                       closed=True, transform=fig.transFigure, facecolor="#65bde8", edgecolor="none"))
fig.text(fx(118), fy(938), "TradingView", color="#3bb0e6", fontsize=9.0, va="center")

fig.savefig("out.png", dpi=100, facecolor=BG)
plt.close(fig)
